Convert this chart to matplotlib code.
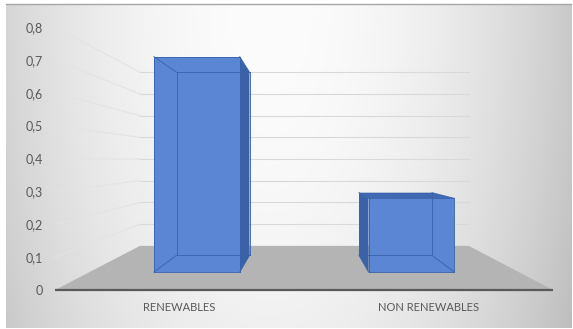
import numpy as np
import matplotlib.pyplot as plt
from matplotlib.patches import Polygon

categories = ['RENEWABLES', 'NON RENEWABLES']
values = [0.76, 0.26]
y_ticks = [0, 0.1, 0.2, 0.3, 0.4, 0.5, 0.6, 0.7, 0.8]
y_tick_labels = ['0', '0,1', '0,2', '0,3', '0,4', '0,5', '0,6', '0,7', '0,8']

W, H = 573, 329
plt.rcParams['font.family'] = ['Lato', 'DejaVu Sans']
text_color = '#595959'

fig = plt.figure(figsize=(W / 100, H / 100), dpi=100)

# soft grey/white backdrop like the Excel chart area
xx, yy = np.meshgrid(np.arange(W), np.arange(H))
shade = 252 - 50 * ((xx - 270) / 300) ** 2 - 12 * (yy / H) ** 2
shade = np.clip(shade, 0, 255) / 255
shade[(xx < 6) | (xx > 571) | (yy < 4) | (yy > 327)] = 1.0
bg = fig.add_axes([0, 0, 1, 1])
bg.imshow(np.dstack([shade] * 3), extent=(0, W, H, 0), aspect='auto')
bg.plot([6, 571], [4, 4], color='#a6a6a6', lw=1)
bg.set_xlim(0, W)
bg.set_ylim(H, 0)
bg.axis('off')

# front plane of the plot
ax = fig.add_axes([55 / W, (H - 290) / H, (553 - 55) / W, (290 - 27) / H])
ax.set_xlim(-0.5, 1.5)
ax.set_ylim(0, 0.8)
ax.patch.set_alpha(0)
for sp in ax.spines.values():
    sp.set_visible(False)

# perspective: shrink towards a vanishing point with depth factor s
vx, vy = 0.504, 0.395
floor_back = 0.66
bar_front, bar_back = 0.862, 0.733
half_w = 0.2


def proj(x, y, s):
    return (vx + s * (x - vx), vy + s * (y - vy))


x0, x1 = -0.5, 1.5

# gridlines on side wall and back wall
for t in y_ticks[1:]:
    a = proj(x0, t, 1.0)
    b = proj(x0, t, floor_back)
    c = proj(x1, t, floor_back)
    ax.plot([a[0], b[0]], [a[1], b[1]], color='#e3e3e3', lw=0.8, clip_on=False, zorder=1)
    ax.plot([b[0], c[0]], [b[1], c[1]], color='#d9d9d9', lw=0.8, clip_on=False, zorder=1)

# floor
floor = [proj(x0, 0, 1.0), proj(x1, 0, 1.0), proj(x1, 0, floor_back), proj(x0, 0, floor_back)]
ax.add_patch(Polygon(floor, closed=True, facecolor='#b4b4b4', edgecolor='none',
                     clip_on=False, zorder=2))
ax.plot([x0, x1], [0, 0], color='#595959', lw=1.6, clip_on=False, zorder=2.5,
        solid_capstyle='butt')

# 3D-looking bars
for i, v in enumerate(values):
    l, r = i - half_w, i + half_w
    F = [proj(l, 0, bar_front), proj(r, 0, bar_front), proj(r, v, bar_front), proj(l, v, bar_front)]
    B = [proj(l, 0, bar_back), proj(r, 0, bar_back), proj(r, v, bar_back), proj(l, v, bar_back)]
    faces = []
    if vx > r:
        faces.append(([F[1], B[1], B[2], F[2]], '#3b62a6'))
    if vx < l:
        faces.append(([F[0], B[0], B[3], F[3]], '#3b62a6'))
    if vy > v:
        faces.append(([F[3], F[2], B[2], B[3]], '#4169b2'))
    faces.append((F, '#5a86d3'))
    for pts, col in faces:
        ax.add_patch(Polygon(pts, closed=True, facecolor=col, edgecolor='none',
                             clip_on=False, zorder=3))
    edges = [(F[k], F[(k + 1) % 4]) for k in range(4)]
    edges += [(B[k], B[(k + 1) % 4]) for k in range(4)]
    edges += [(F[k], B[k]) for k in range(4)]
    for p, q in edges:
        ax.plot([p[0], q[0]], [p[1], q[1]], color='#3863ad', lw=0.7, alpha=0.9,
                clip_on=False, zorder=4)

ax.set_yticks(y_ticks)
ax.set_yticklabels(y_tick_labels)
ax.set_xticks(range(len(categories)))
ax.set_xticklabels(categories)
ax.tick_params(axis='y', length=0, pad=8.6, labelsize=9, labelcolor=text_color)
ax.tick_params(axis='x', length=0, pad=8.5, labelsize=8, labelcolor=text_color)

fig.savefig('out.png', dpi=100)
